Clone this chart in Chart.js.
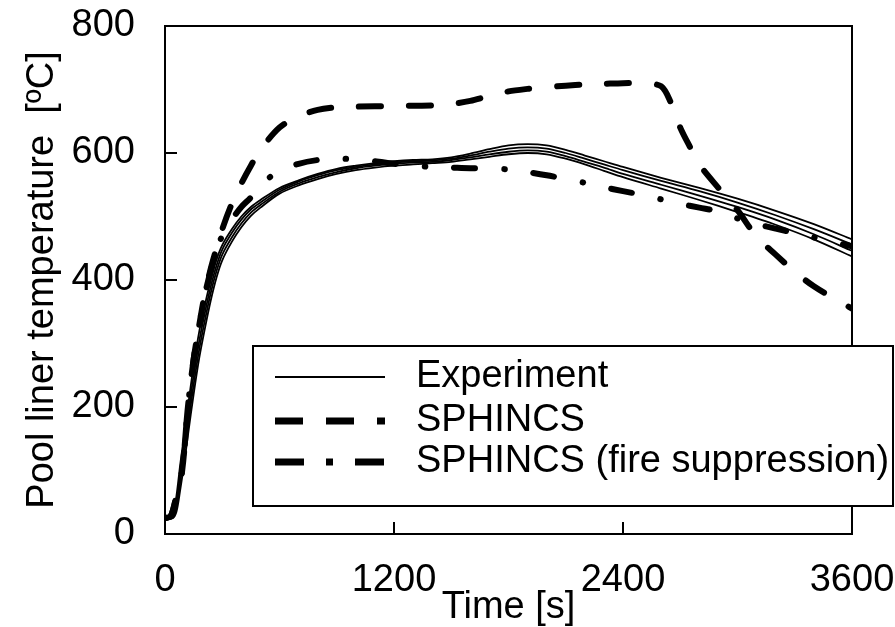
<!DOCTYPE html>
<html>
<head>
<meta charset="utf-8">
<script src="https://cdn.jsdelivr.net/npm/chart.js@4.4.1/dist/chart.umd.min.js"></script>
<style>
  html, body { margin: 0; padding: 0; background: #fff; }
</style>
</head>
<body>
<canvas id="chart" width="895" height="627"></canvas>
<script>
// time axis of the measured curves [s]
const expTime = [0, 40, 60, 80, 100, 120, 150, 180, 210, 240, 270, 300, 350, 400, 450, 500, 600, 700, 800, 900, 1000,
  1100, 1200, 1300, 1400, 1500, 1600, 1700, 1800, 1900, 2000, 2100, 2200, 2300, 2400, 2600, 2800, 3000, 3200, 3400, 3600];
// four thermocouples on the pool liner [ºC]
const expA = [25, 28, 60, 110, 155, 200, 265, 320, 362, 400, 432, 455, 480, 500, 515, 526, 545, 557, 567, 575, 580,
  584, 587, 589, 590, 593, 599, 606, 612, 614, 612, 605, 596, 587, 578, 561, 545, 528, 509, 488, 464];
const expB = [25, 26, 50, 95, 140, 185, 250, 305, 350, 390, 423, 448, 474, 495, 511, 522, 542, 555, 565, 573, 578,
  582, 585, 587, 588, 591, 596, 602, 607, 609, 607, 600, 591, 582, 573, 556, 540, 522, 502, 480, 456];
const expC = [25, 25, 42, 82, 125, 170, 235, 292, 338, 380, 414, 440, 467, 489, 506, 518, 539, 552, 562, 570, 576,
  580, 583, 585, 586, 589, 593, 598, 602, 604, 602, 595, 586, 577, 567, 550, 533, 515, 495, 472, 446];
const expD = [25, 25, 35, 70, 110, 155, 220, 278, 325, 368, 404, 431, 460, 483, 501, 514, 536, 549, 559, 567, 573,
  577, 580, 582, 584, 586, 590, 594, 598, 600, 598, 591, 582, 572, 562, 544, 526, 507, 487, 464, 437];

// SPHINCS simulation
const simTime = [0, 30, 60, 90, 120, 150, 180, 210, 240, 270, 300, 350, 400, 450, 500, 600, 700, 800, 900, 1000, 1200,
  1400, 1500, 1600, 1700, 1800, 1900, 2000, 2100, 2200, 2300, 2400, 2500, 2600, 2650, 2700, 2750, 2800, 2900, 3000,
  3100, 3200, 3300, 3400, 3500, 3600];
const sphincs = [25, 28, 60, 100, 200, 275, 330, 380, 418, 450, 480, 520, 552, 580, 605, 640, 658, 668, 672, 673, 674,
  675, 677, 682, 690, 697, 701, 704, 706, 708, 709, 710, 710, 705, 680, 640, 610, 582, 545, 510,
  468, 440, 413, 390, 372, 355];

// SPHINCS with fire suppression
const supTime = [0, 30, 60, 90, 120, 150, 180, 210, 240, 270, 300, 350, 400, 450, 500, 550, 600, 700, 800, 900, 1000,
  1100, 1200, 1300, 1400, 1500, 1600, 1700, 1800, 1900, 2000, 2100, 2200, 2300, 2400, 2500, 2600, 2700, 2800, 2900,
  3000, 3100, 3200, 3300, 3400, 3500, 3600];
const sphincsSup = [25, 28, 60, 100, 200, 275, 330, 378, 415, 445, 470, 495, 515, 530, 548, 562, 572, 583, 589, 591, 590,
  587, 583, 580, 578, 577, 576, 576, 574, 570, 565, 559, 553, 546, 540, 534, 527, 520, 514, 508,
  497, 488, 481, 474, 467, 460, 453];

const xTicks = [0, 1200, 2400, 3600];
const yTicks = [0, 200, 400, 600, 800];

const legendItems = ['Experiment', 'SPHINCS', 'SPHINCS (fire suppression)'];

const FONT = '"Liberation Sans", Arial, sans-serif';
const FSIZE = 38;
const pts = (ts, vs) => ts.map((t, i) => ({ x: t, y: vs[i] }));

function expSet(vals) {
  return {
    data: pts(expTime, vals),
    borderColor: '#000',
    borderWidth: 1.8,
    pointRadius: 0,
    tension: 0.3,
    fill: false
  };
}

function noPad(s) {
  s.paddingLeft = 0; s.paddingRight = 0; s.paddingTop = 0; s.paddingBottom = 0;
}

// box, inner tick marks and the legend
const framePlugin = {
  id: 'frame',
  afterDatasetsDraw(chart) {
    const ctx = chart.ctx;
    const a = chart.chartArea;
    const xs = chart.scales.x, ys = chart.scales.y;
    ctx.save();
    ctx.strokeStyle = '#000';
    ctx.lineWidth = 2;
    ctx.strokeRect(a.left, a.top, a.right - a.left, a.bottom - a.top);

    ctx.beginPath();
    yTicks.slice(1, -1).forEach(v => {
      const y = Math.round(ys.getPixelForValue(v));
      ctx.moveTo(a.left, y);
      ctx.lineTo(a.left + 12, y);
    });
    xTicks.slice(1, -1).forEach(v => {
      const x = Math.round(xs.getPixelForValue(v));
      ctx.moveTo(x, a.bottom);
      ctx.lineTo(x, a.bottom - 12);
    });
    ctx.stroke();

    // legend
    const bx = 253, by = 346, bw = 640, bh = 160;
    ctx.fillStyle = '#fff';
    ctx.fillRect(bx, by, bw, bh);
    ctx.strokeRect(bx, by, bw, bh);
    const rows = [377, 421, 462];
    const x0 = 275, x1 = 385;
    ctx.lineCap = 'butt';

    ctx.lineWidth = 1.8;
    ctx.setLineDash([]);
    ctx.beginPath(); ctx.moveTo(x0, rows[0]); ctx.lineTo(x1, rows[0]); ctx.stroke();

    ctx.lineWidth = 7;
    ctx.setLineDash([28, 23]);
    ctx.beginPath(); ctx.moveTo(x0, rows[1]); ctx.lineTo(x1, rows[1]); ctx.stroke();

    ctx.setLineDash([29, 22, 7, 22]);
    ctx.beginPath(); ctx.moveTo(x0, rows[2]); ctx.lineTo(x1, rows[2]); ctx.stroke();
    ctx.setLineDash([]);

    ctx.fillStyle = '#000';
    ctx.font = FSIZE + 'px ' + FONT;
    ctx.textBaseline = 'middle';
    ctx.textAlign = 'left';
    legendItems.forEach((t, i) => ctx.fillText(t, 416, rows[i]));
    ctx.restore();
  }
};

new Chart(document.getElementById('chart'), {
  type: 'line',
  data: {
    datasets: [
      expSet(expA), expSet(expB), expSet(expC), expSet(expD),
      {
        data: pts(simTime, sphincs),
        borderColor: '#000',
        borderWidth: 6,
        borderDash: [22, 28],
        borderCapStyle: 'round',
        pointRadius: 0,
        tension: 0.3,
        fill: false
      },
      {
        data: pts(supTime, sphincsSup),
        borderColor: '#000',
        borderWidth: 6,
        borderDash: [21, 29, 0.5, 29],
        borderCapStyle: 'round',
        pointRadius: 0,
        tension: 0.3,
        fill: false
      }
    ]
  },
  options: {
    responsive: false,
    animation: false,
    devicePixelRatio: 1,
    layout: { padding: { top: 26, right: 43, left: 0, bottom: 0 } },
    plugins: { legend: { display: false }, tooltip: { enabled: false } },
    scales: {
      x: {
        type: 'linear',
        min: 0,
        max: 3600,
        afterBuildTicks: s => { s.ticks = xTicks.map(v => ({ value: v })); },
        afterFit: s => { s.height = 93; noPad(s); },
        grid: { display: false, drawTicks: false },
        border: { display: true, color: '#000', width: 2 },
        ticks: { color: '#000', font: { family: FONT, size: FSIZE }, padding: 24, maxRotation: 0, callback: v => String(v) },
        title: { display: true, text: 'Time [s]', color: '#000', font: { family: FONT, size: FSIZE, lineHeight: 1 }, padding: 0 }
      },
      y: {
        min: 0,
        max: 800,
        afterBuildTicks: s => { s.ticks = yTicks.map(v => ({ value: v })); },
        afterFit: s => { s.width = 165; noPad(s); },
        grid: { display: false, drawTicks: false },
        border: { display: true, color: '#000', width: 2 },
        ticks: { color: '#000', font: { family: FONT, size: FSIZE }, padding: 30, callback: v => String(v) },
        title: { display: true, text: 'Pool liner temperature  [ºC]', color: '#000', font: { family: FONT, size: FSIZE, lineHeight: 1 }, padding: { top: 24, bottom: 0 } }
      }
    }
  },
  plugins: [framePlugin]
});
</script>
</body>
</html>
